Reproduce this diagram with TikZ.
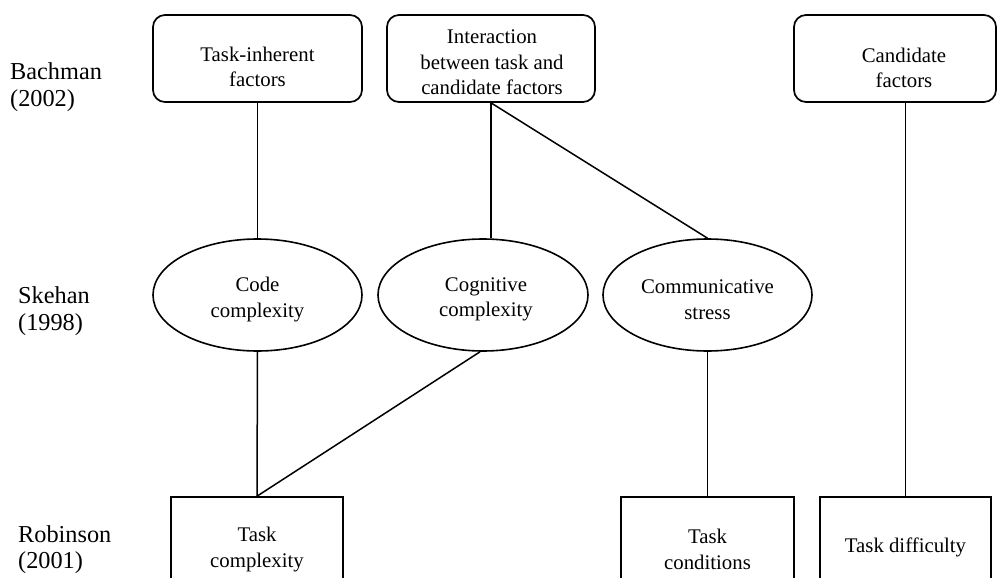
\documentclass[tikz,border=0pt]{standalone}
\usepackage{fontspec}
\setmainfont{Liberation Serif}
\usetikzlibrary{shapes.geometric}
\begin{document}
\begin{tikzpicture}[x=1pt,y=-1pt,
  rbox/.style={draw, rounded corners=12pt, line width=1.7pt, inner sep=0pt},
  ebox/.style={draw, ellipse, line width=1.6pt, inner sep=0pt, minimum height=112pt},
  sbox/.style={draw, rectangle, line width=1.6pt, inner sep=0pt, minimum height=113pt},
  txt/.style={font=\fontsize{20.8}{25.5}\selectfont, align=center, inner sep=0pt},
  lbl/.style={font=\fontsize{24.3}{26.5}\selectfont, align=left, anchor=west, inner sep=0pt},
  conn/.style={line width=1.5pt}]
\clip (0,0) rectangle (997,578);
\fill[white] (0,0) rectangle (997,578);

% row labels
\node[lbl] (bach) at (10,87) {Bachman\\(2002)};
\node[lbl] (skeh) at (18,311) {Skehan\\(1998)};
\node[lbl] (robi) at (18,549.5) {Robinson\\(2001)};

% Bachman boxes
\node[rbox, minimum width=209pt, minimum height=87pt] (ti) at (257.5,58.5) {};
\node[txt] (titxt) at (257.5,67) {Task-inherent\\factors};
\node[rbox, minimum width=208pt, minimum height=87pt] (inter) at (491,58.5) {};
\node[txt] (intertxt) at (492,62.5) {Interaction\\between task and\\candidate factors};
\node[rbox, minimum width=202pt, minimum height=87pt] (cand) at (895,58.5) {};
\node[txt] (candtxt) at (904,68) {Candidate\\factors};

% Skehan ellipses
\node[ebox, minimum width=209pt] (code) at (257.5,295) {};
\node[txt] (codetxt) at (257.5,299.5) {Code\\complexity};
\node[ebox, minimum width=210pt] (cog) at (483,295) {};
\node[txt] (cogtxt) at (486,299.5) {Cognitive\\complexity};
\node[ebox, minimum width=209pt] (comm) at (707.5,295) {};
\node[txt] (commtxt) at (707.5,299.5) {Communicative\\stress};

% Robinson boxes (cut off at the bottom)
\node[sbox, minimum width=172pt] (tcx) at (257,553.5) {};
\node[txt] (tcxtxt) at (257,549.5) {Task\\complexity};
\node[sbox, minimum width=173pt] (tcond) at (707.5,553.5) {};
\node[txt] (tcondtxt) at (707.5,549.5) {Task\\conditions};
\node[sbox, minimum width=171pt] (tdiff) at (905.5,553.5) {};
\node[txt] (tdifftxt) at (905.5,547) {Task difficulty};

% connectors
\draw[conn] (ti.south) -- (code.north);
\draw[conn] (inter.south) -- (inter.south |- cog.north);
\draw[conn] (inter.south) -- (comm.north);
\draw[conn] (tdiff.north |- cand.south) -- (tdiff.north);
\draw[conn] (code.south) -- (tcx.north);
\draw[conn] (cog.-93) -- (tcx.north);
\draw[conn] (comm.south) -- (tcond.north);
\end{tikzpicture}
\end{document}
